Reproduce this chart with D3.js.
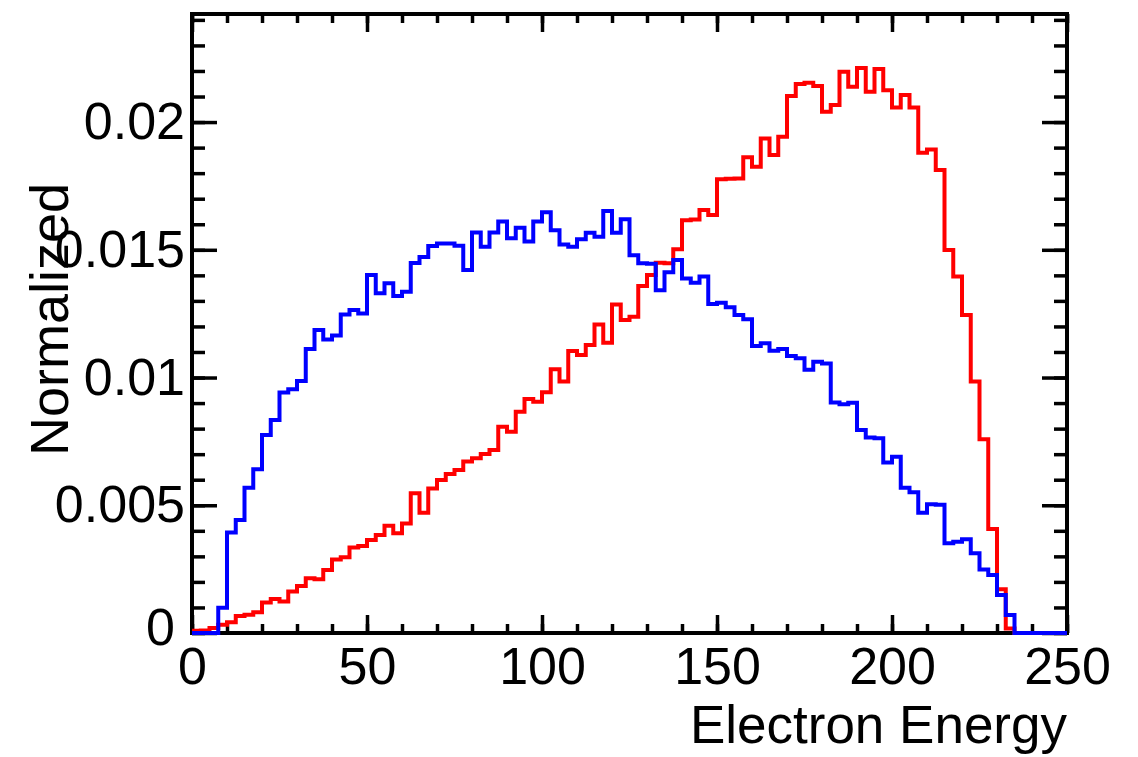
<!DOCTYPE html>
<html>
<head>
<meta charset="utf-8">
<script src="https://cdn.jsdelivr.net/npm/d3@7"></script>
<style>
  body { margin: 0; background: white; }
  svg { display: block; font-family: "Liberation Sans", Arial, Helvetica, sans-serif; }
</style>
</head>
<body>
<svg width="1138" height="757"></svg>
<script>

// histogram bins: 100 bins of 2.5 between 0 and 250
var binWidth = 2.5;
var binCount = 100;

// red histogram, bin contents
var redValues = [
  0.00009, 0.00010, 0.00020, 0.00032, 0.00042, 0.00067, 0.00071, 0.00081, 0.00119, 0.00133,
  0.00123, 0.00162, 0.00184, 0.00214, 0.00210, 0.00247, 0.00288, 0.00297, 0.00335, 0.00341,
  0.00364, 0.00384, 0.00420, 0.00390, 0.00429, 0.00547, 0.00471, 0.00566, 0.00599, 0.00622,
  0.00638, 0.00671, 0.00684, 0.00701, 0.00716, 0.00807, 0.00788, 0.00866, 0.00916, 0.00905,
  0.00942, 0.01032, 0.00984, 0.01104, 0.01088, 0.01127, 0.01208, 0.01136, 0.01286, 0.01225,
  0.01238, 0.01358, 0.01401, 0.01449, 0.01447, 0.01502, 0.01616, 0.01619, 0.01656, 0.01636,
  0.01776, 0.01778, 0.01779, 0.01862, 0.01825, 0.01936, 0.01871, 0.01943, 0.02102, 0.02149,
  0.02154, 0.02141, 0.02040, 0.02067, 0.02197, 0.02138, 0.02212, 0.02119, 0.02208, 0.02125,
  0.02057, 0.02106, 0.02057, 0.01880, 0.01893, 0.01812, 0.01499, 0.01395, 0.01245, 0.00984,
  0.00758, 0.00407, 0.00171, 0.00018, 0, 0, 0, 0, 0, 0
];

// blue histogram
var blueValues = [
  0, 0, 0, 0.00099, 0.00393, 0.00442, 0.00569, 0.00641, 0.00775, 0.00834,
  0.00941, 0.00954, 0.00986, 0.01112, 0.01186, 0.01149, 0.01165, 0.01247, 0.01264, 0.01251,
  0.01401, 0.01330, 0.01369, 0.01319, 0.01336, 0.01448, 0.01472, 0.01515, 0.01525, 0.01525,
  0.01516, 0.01421, 0.01568, 0.01512, 0.01568, 0.01611, 0.01545, 0.01586, 0.01532, 0.01611,
  0.01647, 0.01577, 0.01521, 0.01512, 0.01541, 0.01567, 0.01551, 0.01652, 0.01567, 0.01620,
  0.01479, 0.01447, 0.01445, 0.01342, 0.01412, 0.01460, 0.01388, 0.01371, 0.01395, 0.01288,
  0.01293, 0.01275, 0.01245, 0.01228, 0.01123, 0.01134, 0.01105, 0.01112, 0.01084, 0.01075,
  0.01030, 0.01062, 0.01055, 0.00902, 0.00895, 0.00901, 0.00795, 0.00765, 0.00762, 0.00667,
  0.00690, 0.00569, 0.00551, 0.00471, 0.00504, 0.00502, 0.00351, 0.00357, 0.00367, 0.00312,
  0.00249, 0.00227, 0.00149, 0.00070, 0, 0, 0, 0, 0, 0
];

var xTicks = [0, 50, 100, 150, 200, 250];
var xTickLabels = ["0", "50", "100", "150", "200", "250"];
var xMinorTicks = d3.range(0, 251, 10);
var yTicks = [0, 0.005, 0.01, 0.015, 0.02];
var yTickLabels = ["0", "0.005", "0.01", "0.015", "0.02"];
var yMinorTicks = d3.range(0, 25).map(function(d) { return d / 1000; });

var xMin = 0, xMax = 250;
var yMin = 0, yMax = 0.02423;

var drawHistograms = function() {
  let svg = d3.select("svg");

  // frame of the pad, in pixels
  let margin = { top: 14, right: 71, bottom: 124, left: 192 };
  let plotWidth = 1138 - margin.left - margin.right;
  let plotHeight = 757 - margin.top - margin.bottom;

  let xScale = d3.scaleLinear().domain([xMin, xMax]).range([0, plotWidth]);
  let yScale = d3.scaleLinear().domain([yMin, yMax]).range([plotHeight, 0]);

  let plot = svg.append("g")
    .attr("transform", "translate(" + margin.left + "," + margin.top + ")");

  // box round the plot
  plot.append("rect")
    .attr("x", 0)
    .attr("y", 0)
    .attr("width", plotWidth)
    .attr("height", plotHeight)
    .style("fill", "none")
    .style("stroke", "black")
    .style("stroke-width", 4);

  let tickStyle = function(g) {
    g.select(".domain").remove();
    g.selectAll("line").attr("stroke", "black").attr("stroke-width", 3.5);
    g.selectAll("text")
      .style("font-size", "52px")
      .style("fill", "black");
  };

  // bottom axis with labels, major ticks point inwards
  plot.append("g")
    .attr("transform", "translate(0," + plotHeight + ")")
    .call(d3.axisBottom(xScale).tickValues(xTicks)
      .tickFormat(function(d, i) { return xTickLabels[i]; })
      .tickSizeInner(-18).tickSizeOuter(0).tickPadding(14))
    .call(tickStyle);
  plot.append("g")
    .attr("transform", "translate(0," + plotHeight + ")")
    .call(d3.axisBottom(xScale).tickValues(xMinorTicks).tickFormat("")
      .tickSizeInner(-9).tickSizeOuter(0))
    .call(tickStyle);

  // top axis, ticks only
  plot.append("g")
    .call(d3.axisTop(xScale).tickValues(xTicks).tickFormat("")
      .tickSizeInner(-18).tickSizeOuter(0))
    .call(tickStyle);
  plot.append("g")
    .call(d3.axisTop(xScale).tickValues(xMinorTicks).tickFormat("")
      .tickSizeInner(-9).tickSizeOuter(0))
    .call(tickStyle);

  // left axis with labels
  let yGroup = plot.append("g")
    .call(d3.axisLeft(yScale).tickValues(yTicks)
      .tickFormat(function(d, i) { return yTickLabels[i]; })
      .tickSizeInner(-25).tickSizeOuter(0).tickPadding(7))
    .call(tickStyle);
  // the zero label sits a bit further left so it clears the x axis "0"
  yGroup.selectAll("text")
    .filter(function(d) { return d === 0; })
    .attr("x", -17)
    .attr("dy", "0.22em");
  plot.append("g")
    .call(d3.axisLeft(yScale).tickValues(yMinorTicks).tickFormat("")
      .tickSizeInner(-13).tickSizeOuter(0))
    .call(tickStyle);

  // right axis, ticks only
  plot.append("g")
    .attr("transform", "translate(" + plotWidth + ",0)")
    .call(d3.axisRight(yScale).tickValues(yTicks).tickFormat("")
      .tickSizeInner(-25).tickSizeOuter(0))
    .call(tickStyle);
  plot.append("g")
    .attr("transform", "translate(" + plotWidth + ",0)")
    .call(d3.axisRight(yScale).tickValues(yMinorTicks).tickFormat("")
      .tickSizeInner(-13).tickSizeOuter(0))
    .call(tickStyle);

  // step outline of a histogram: each bin drawn from its low edge
  let histLine = d3.line()
    .x(function(d) { return xScale(d[0]); })
    .y(function(d) { return yScale(d[1]); })
    .curve(d3.curveStepAfter);

  let toPoints = function(values) {
    let pts = values.map(function(v, i) { return [i * binWidth, v]; });
    pts.push([binCount * binWidth, values[binCount - 1]]);
    return pts;
  };

  plot.append("path")
    .datum(toPoints(redValues))
    .attr("d", histLine)
    .style("fill", "none")
    .style("stroke", "#ff0000")
    .style("stroke-width", 4);

  plot.append("path")
    .datum(toPoints(blueValues))
    .attr("d", histLine)
    .style("fill", "none")
    .style("stroke", "#0000ff")
    .style("stroke-width", 4);

  // axis titles
  svg.append("text")
    .attr("x", margin.left + plotWidth)
    .attr("y", 743)
    .style("font-size", "53px")
    .style("text-anchor", "end")
    .text("Electron Energy");

  svg.append("text")
    .attr("transform", "translate(68,183) rotate(-90)")
    .style("font-size", "54px")
    .style("text-anchor", "end")
    .text("Normalized");
};

drawHistograms();
</script>
</body>
</html>
